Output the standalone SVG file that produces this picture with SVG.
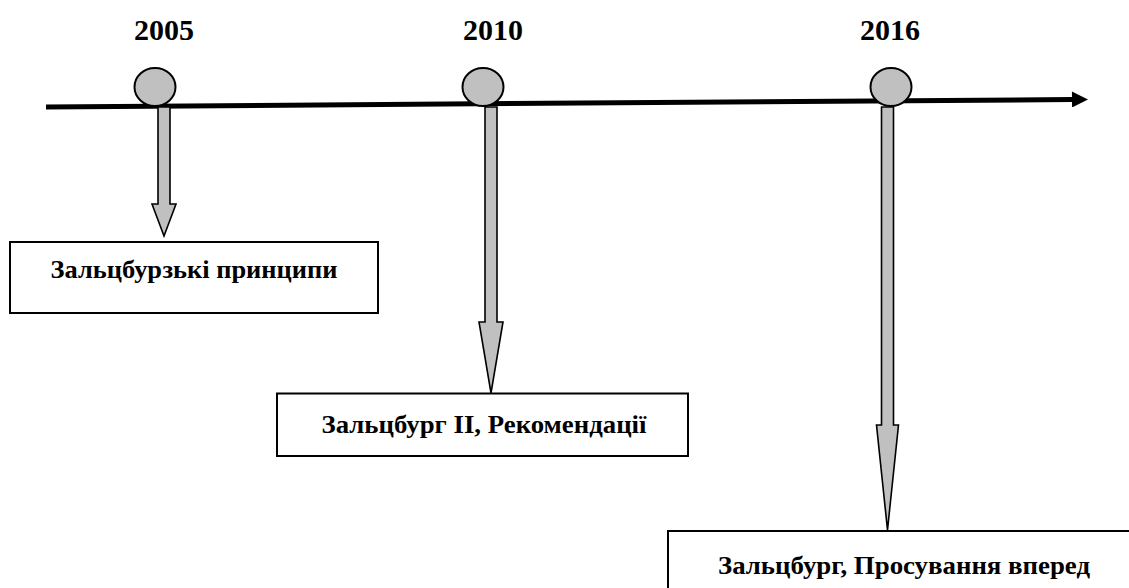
<svg xmlns="http://www.w3.org/2000/svg" width="1129" height="588" viewBox="0 0 1129 588">
<style>
.yr{font-family:"Liberation Serif","Times New Roman",serif;font-weight:bold;font-size:30px;fill:#000;text-anchor:middle}
.lb{font-family:"Liberation Serif","Times New Roman",serif;font-weight:bold;font-size:26px;fill:#000;text-anchor:middle}
.box{fill:#fff;stroke:#000;stroke-width:2}
.dot{fill:#c0c0c0;stroke:#000;stroke-width:2}
.arr{fill:#c0c0c0;stroke:#000;stroke-width:1.6;stroke-linejoin:miter}
</style>
<defs>
<marker id="head" viewBox="0 0 10 10" refX="0" refY="5" markerWidth="3.4" markerHeight="3.2" orient="auto" markerUnits="strokeWidth">
<path d="M0,0 L10,5 L0,10 Z" fill="#000"/>
</marker>
</defs>
<rect width="1129" height="588" fill="#fff"/>
<g id="connectors">
<line x1="46" y1="107" x2="1072" y2="99.5" stroke="#000" stroke-width="5" marker-end="url(#head)"/>
<path class="arr" d="M158,107 L170,107 L170,204 L176,204 L164,236 L152,204 L158,204 Z"/>
<path class="arr" d="M485,107 L497,107 L497,322 L503,322 L491,393 L479,322 L485,322 Z"/>
<path class="arr" d="M881.5,107 L893.5,107 L893.5,425 L898.5,425 L887.5,530 L876.5,425 L881.5,425 Z"/>
</g>
<g id="node-2005">
<ellipse class="dot" cx="155" cy="87" rx="20.5" ry="19"/>
<text class="yr" x="164" y="40">2005</text>
</g>
<g id="node-2010">
<ellipse class="dot" cx="483" cy="87" rx="20.5" ry="19"/>
<text class="yr" x="493" y="40">2010</text>
</g>
<g id="node-2016">
<ellipse class="dot" cx="891" cy="87" rx="20.5" ry="19"/>
<text class="yr" x="890" y="40">2016</text>
</g>
<g id="box-1">
<rect class="box" x="10" y="242" width="368" height="71"/>
<text class="lb" x="194" y="278" textLength="287" lengthAdjust="spacingAndGlyphs">Зальцбурзькі принципи</text>
</g>
<g id="box-2">
<rect class="box" x="277" y="393.5" width="411" height="62.5"/>
<text class="lb" x="484" y="433" textLength="325" lengthAdjust="spacingAndGlyphs">Зальцбург ІІ, Рекомендації</text>
</g>
<g id="box-3">
<rect class="box" x="668" y="531" width="480" height="80"/>
<text class="lb" x="904" y="574" textLength="372" lengthAdjust="spacingAndGlyphs">Зальцбург, Просування вперед</text>
</g>
</svg>
